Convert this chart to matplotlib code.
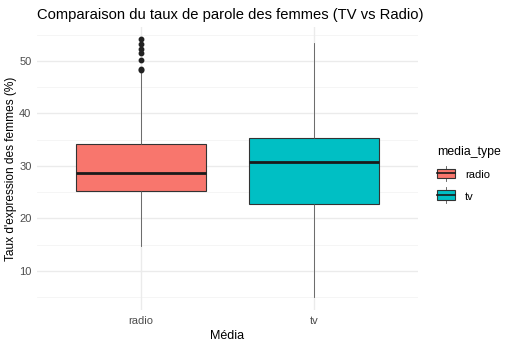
import matplotlib
matplotlib.use("Agg")
import matplotlib.pyplot as plt
from matplotlib.patches import Rectangle
from matplotlib.lines import Line2D
from matplotlib.legend_handler import HandlerBase

plt.rcParams['font.family'] = ['Liberation Sans', 'DejaVu Sans']

categories = ["radio", "tv"]
colors = ["#F8766D", "#00BFC4"]
q1 = [25.2, 22.8]
median = [28.7, 30.7]
q3 = [34.2, 35.3]
whislo = [14.8, 5.0]
whishi = [47.8, 53.4]
fliers = [[48.2, 48.5, 50.1, 51.6, 52.3, 53.2, 54.1], []]
yticks = [10, 20, 30, 40, 50]

fig = plt.figure(figsize=(5.12, 3.48), dpi=100)
ax = fig.add_axes([0.0723, 0.109, 0.7437, 0.8146])

for y in [5, 15, 25, 35, 45, 55]:
    ax.axhline(y, color="#F2F2F2", lw=0.55, zorder=0)
for y in yticks:
    ax.axhline(y, color="#EBEBEB", lw=1.0, zorder=0)
for x in [1, 2]:
    ax.axvline(x, color="#EBEBEB", lw=1.0, zorder=0)

stats = []
for i, c in enumerate(categories):
    stats.append(dict(med=median[i], q1=q1[i], q3=q3[i], whislo=whislo[i],
                      whishi=whishi[i], fliers=fliers[i], label=c))
bp = ax.bxp(stats, positions=[1, 2], widths=0.75, patch_artist=True,
            showcaps=False,
            boxprops=dict(edgecolor="#333333", linewidth=0.8),
            medianprops=dict(color="#1a1a1a", linewidth=2.0),
            whiskerprops=dict(color="#555555", linewidth=0.6),
            flierprops=dict(marker="o", markerfacecolor="#222222",
                            markeredgecolor="#222222", markersize=3.2))
for patch, col in zip(bp["boxes"], colors):
    patch.set_facecolor(col)
    patch.set_zorder(2)

ax.set_xlim(0.4, 2.6)
ax.set_ylim(2.55, 56.55)
ax.set_yticks(yticks)
ax.set_xticks([1, 2])
ax.set_xticklabels(categories)
for s in ax.spines.values():
    s.set_visible(False)
ax.tick_params(length=0, labelsize=8, labelcolor="#4D4D4D", pad=4)
ax.set_xlabel("Média", fontsize=9, labelpad=3)
ax.set_ylabel("Taux d'expression des femmes (%)", fontsize=8.6, labelpad=1.5)
fig.text(0.0723, 0.958, "Comparaison du taux de parole des femmes (TV vs Radio)",
         fontsize=10.6, ha="left", va="center")


class BoxKey(HandlerBase):
    def create_artists(self, legend, orig_handle, xdescent, ydescent,
                       width, height, fontsize, trans):
        col = orig_handle.get_facecolor()
        w, h = width, height
        artists = []
        artists.append(Line2D([w / 2, w / 2], [-0.35 * h, 1.35 * h],
                              color="#555555", lw=0.6, transform=trans))
        r = Rectangle((0, 0.0), w, h, facecolor=col,
                      edgecolor="#333333", lw=0.8, transform=trans)
        artists.append(r)
        artists.append(Line2D([0, w], [h / 2, h / 2], color="#1a1a1a",
                              lw=1.2, transform=trans))
        return artists


handles = [Rectangle((0, 0), 1, 1, facecolor=c) for c in colors]
leg = fig.legend(handles, categories, handler_map={Rectangle: BoxKey()},
                 loc="center left", bbox_to_anchor=(0.834, 0.5),
                 frameon=False, title="media_type", fontsize=8,
                 title_fontsize=8.8, handlelength=1.6, handleheight=0.9,
                 labelspacing=1.0, handletextpad=0.9, alignment="left")

fig.savefig("out.png", dpi=100, facecolor="white")
